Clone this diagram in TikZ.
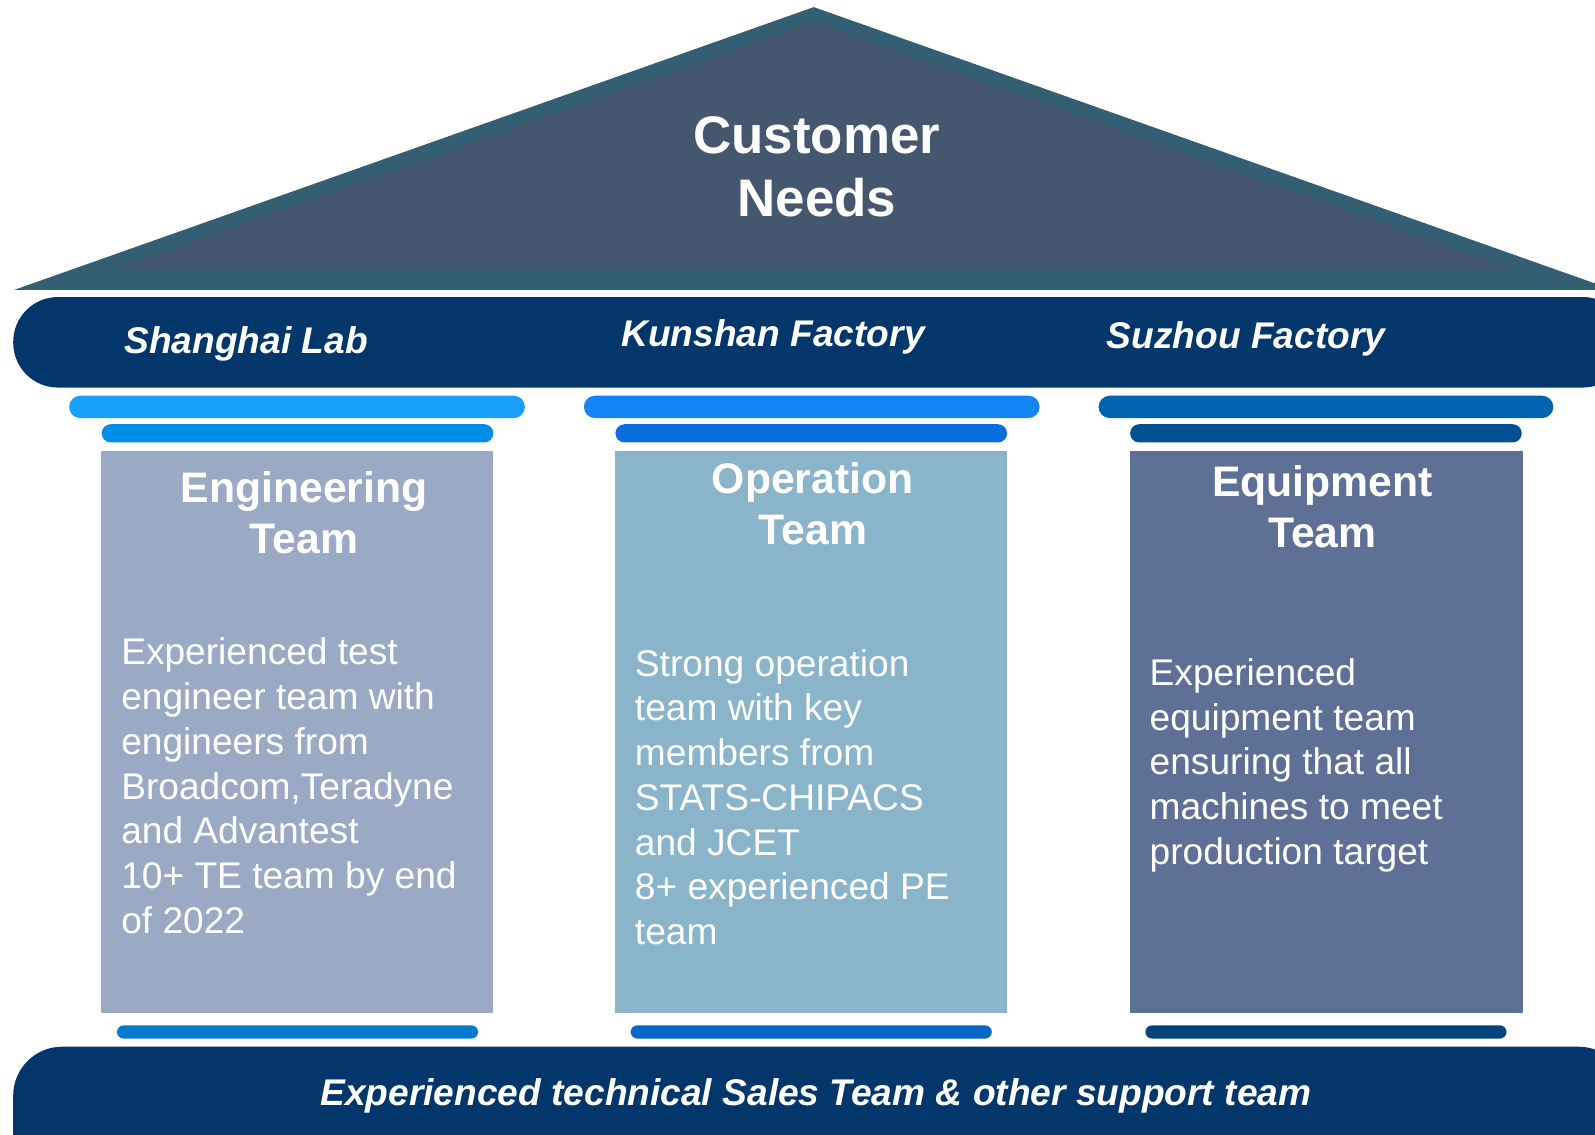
\documentclass[tikz,border=0pt]{standalone}
\usepackage{fontspec}
\setmainfont{Liberation Sans}
\definecolor{roofout}{RGB}{52,95,115}
\definecolor{roofin}{RGB}{69,86,111}
\definecolor{navy}{RGB}{3,54,106}
\definecolor{cAtop}{RGB}{24,160,250}
\definecolor{cAlow}{RGB}{0,142,232}
\definecolor{cAbody}{RGB}{155,170,196}
\definecolor{cAbot}{RGB}{3,122,206}
\definecolor{cBtop}{RGB}{20,131,245}
\definecolor{cBlow}{RGB}{10,110,224}
\definecolor{cBbody}{RGB}{137,180,202}
\definecolor{cBbot}{RGB}{8,102,198}
\definecolor{cCtop}{RGB}{0,99,175}
\definecolor{cClow}{RGB}{0,80,147}
\definecolor{cCbody}{RGB}{94,112,150}
\definecolor{cCbot}{RGB}{3,68,122}
\tikzset{
  bandtxt/.style={text=white,font=\fontsize{36.5}{44}\selectfont\bfseries\itshape,inner sep=0pt},
  headtxt/.style={text=white,font=\fontsize{42}{50}\selectfont\bfseries,align=center,inner sep=0pt},
  bodytxt/.style={text=white,font=\fontsize{36.5}{44}\selectfont,align=left,anchor=north west,inner sep=0pt},
  roofbox/.style={text=white,font=\fontsize{52}{62}\selectfont\bfseries,align=center,inner sep=0pt}
}
\begin{document}
\begin{tikzpicture}[x=1pt,y=-1pt]
\useasboundingbox (0,0) rectangle (1568,1115);
\clip (0,0) rectangle (1568,1115);
\fill[white] (0,0) rectangle (1568,1115);
% roof
\fill[roofout] (14,285) -- (800,7) -- (1586,285) -- cycle;
\fill[roofin] (113,265) -- (800,22) -- (1487,265) -- cycle;
\node[roofbox] (needs) at (803,164) {Customer\\Needs};
% top band
\fill[navy, rounded corners=44pt] (13,292) rectangle (1600,381);
\node[bandtxt] (sh) at (242,338) {Shanghai Lab};
\node[bandtxt] (ks) at (760,331) {Kunshan Factory};
\node[bandtxt] (sz) at (1225,333) {Suzhou Factory};
% capitals
\fill[cAtop, rounded corners=11pt] (68,389) rectangle (516,411);
\fill[cAlow, rounded corners=9pt] (100,417) rectangle (485,435);
\fill[cBtop, rounded corners=11pt] (574,389) rectangle (1022,411);
\fill[cBlow, rounded corners=9pt] (605,417) rectangle (990,435);
\fill[cCtop, rounded corners=11pt] (1080,389) rectangle (1527,411);
\fill[cClow, rounded corners=9pt] (1111,417) rectangle (1496,435);
% bodies
\fill[cAbody] (99,443) rectangle (485,996);
\fill[cBbody] (605,443) rectangle (990,996);
\fill[cCbody] (1111,443) rectangle (1497,996);
% bases
\fill[cAbot, rounded corners=6.5pt] (115,1008) rectangle (470,1021);
\fill[cBbot, rounded corners=6.5pt] (620,1008) rectangle (975,1021);
\fill[cCbot, rounded corners=6.5pt] (1126,1008) rectangle (1481,1021);
% bottom band
\fill[navy, rounded corners=48pt] (13,1029) rectangle (1600,1170);
\node[bandtxt] (sales) at (802,1077) {Experienced technical Sales Team \& other support team};
% headings
\node[headtxt] (engh) at (299,504) {Engineering\\Team};
\node[headtxt] (oph) at (799,495) {Operation\\Team};
\node[headtxt] (eqh) at (1300,498) {Equipment\\Team};
% body texts
\node[bodytxt] (engb) at (119,627) {Experienced test\\engineer team with\\engineers from\\Broadcom,Teradyne\\and Advantest\\10+ TE team by end\\of 2022};
\node[bodytxt] (opb) at (624,638) {Strong operation\\team with key\\members from\\STATS-CHIPACS\\and JCET\\8+ experienced PE\\team};
\node[bodytxt] (eqb) at (1130,647) {Experienced\\equipment team\\ensuring that all\\machines to meet\\production target};
\end{tikzpicture}
\end{document}
